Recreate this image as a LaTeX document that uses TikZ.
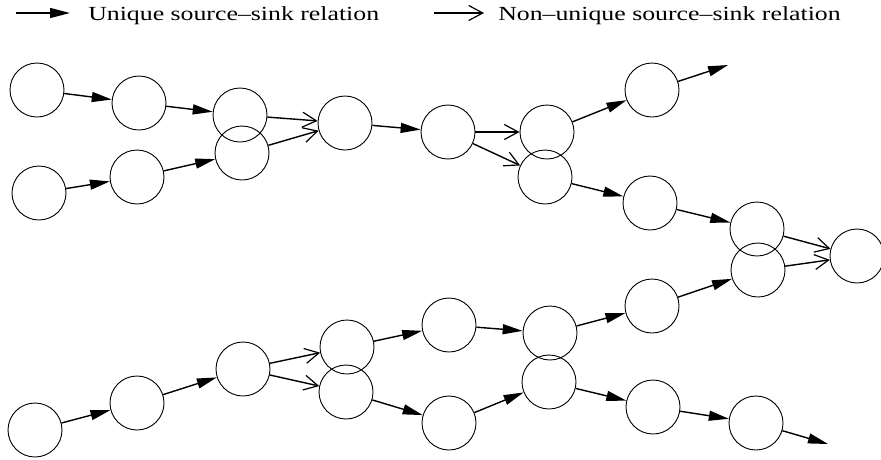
\documentclass[tikz,border=0pt]{standalone}
\usepackage{fontspec}
\setmainfont{Liberation Serif}
\usetikzlibrary{arrows.meta}
\begin{document}
\begin{tikzpicture}[x=1pt,y=-1pt,
  st/.style={circle,draw,line width=0.9pt,minimum size=54pt,inner sep=0pt},
  uniq/.style={line width=1.4pt,-{Triangle[length=20pt,width=10pt]}},
  nonu/.style={line width=1.4pt,-{Straight Barb[length=14pt,width=15pt,line width=1.2pt]}},
  lab/.style={font=\fontsize{20}{22}\selectfont,xscale=1.29,anchor=base west,inner sep=0pt}]
\useasboundingbox (0,0) rectangle (881,459);
% legend
\coordinate (la1) at (16,13); \coordinate (la2) at (70,13);
\draw[uniq] (la1) -- (la2);
\node[lab] (lt1) at (88,20) {Unique source--sink relation};
\coordinate (lb1) at (434,13); \coordinate (lb2) at (484,13);
\draw[nonu] (lb1) -- (lb2);
\node[lab] (lt2) at (498,20) {Non--unique source--sink relation};
% nodes
\node[st] (t1) at (37,90) {};
\node[st] (t2) at (139,103) {};
\node[st] (t3) at (240,115) {};
\node[st] (m1) at (39,193) {};
\node[st] (m2) at (137,177) {};
\node[st] (m3) at (242,153) {};
\node[st] (c1) at (345,123) {};
\node[st] (c2) at (448,132) {};
\node[st] (u1) at (547,132) {};
\node[st] (u2) at (652,90) {};
\coordinate (uf) at (728,65);
\node[st] (d1) at (545,177) {};
\node[st] (d2) at (650,203) {};
\node[st] (d3) at (757,229) {};
\node[st] (e) at (857,256) {};
\node[st] (b1) at (35,430) {};
\node[st] (b2) at (137,403) {};
\node[st] (b3) at (243,369) {};
\node[st] (p1) at (347,347) {};
\node[st] (p2) at (449,325) {};
\node[st] (p3) at (550,333) {};
\node[st] (p4) at (652,306) {};
\node[st] (p5) at (758,270) {};
\node[st] (q1) at (346,392) {};
\node[st] (q2) at (449,423) {};
\node[st] (q3) at (549,382) {};
\node[st] (q4) at (653,407) {};
\node[st] (q5) at (756,423) {};
\coordinate (qf) at (828,444);
% connectors
\draw[uniq] (t1) -- (t2);
\draw[uniq] (t2) -- (t3);
\draw[uniq] (m1) -- (m2);
\draw[uniq] (m2) -- (m3);
\draw[nonu] (t3) -- (c1);
\draw[nonu] (m3) -- (c1);
\draw[uniq] (c1) -- (c2);
\draw[nonu] (c2) -- (u1);
\draw[nonu] (c2) -- (d1);
\draw[uniq] (u1) -- (u2);
\draw[uniq] (u2) -- (uf);
\draw[uniq] (d1) -- (d2);
\draw[uniq] (d2) -- (d3);
\draw[nonu] (d3) -- (e);
\draw[nonu] (p5) -- (e);
\draw[uniq] (b1) -- (b2);
\draw[uniq] (b2) -- (b3);
\draw[nonu] (b3) -- (p1);
\draw[nonu] (b3) -- (q1);
\draw[uniq] (p1) -- (p2);
\draw[uniq] (p2) -- (p3);
\draw[uniq] (p3) -- (p4);
\draw[uniq] (p4) -- (p5);
\draw[uniq] (q1) -- (q2);
\draw[uniq] (q2) -- (q3);
\draw[uniq] (q3) -- (q4);
\draw[uniq] (q4) -- (q5);
\draw[uniq] (q5) -- (qf);
\end{tikzpicture}
\end{document}
